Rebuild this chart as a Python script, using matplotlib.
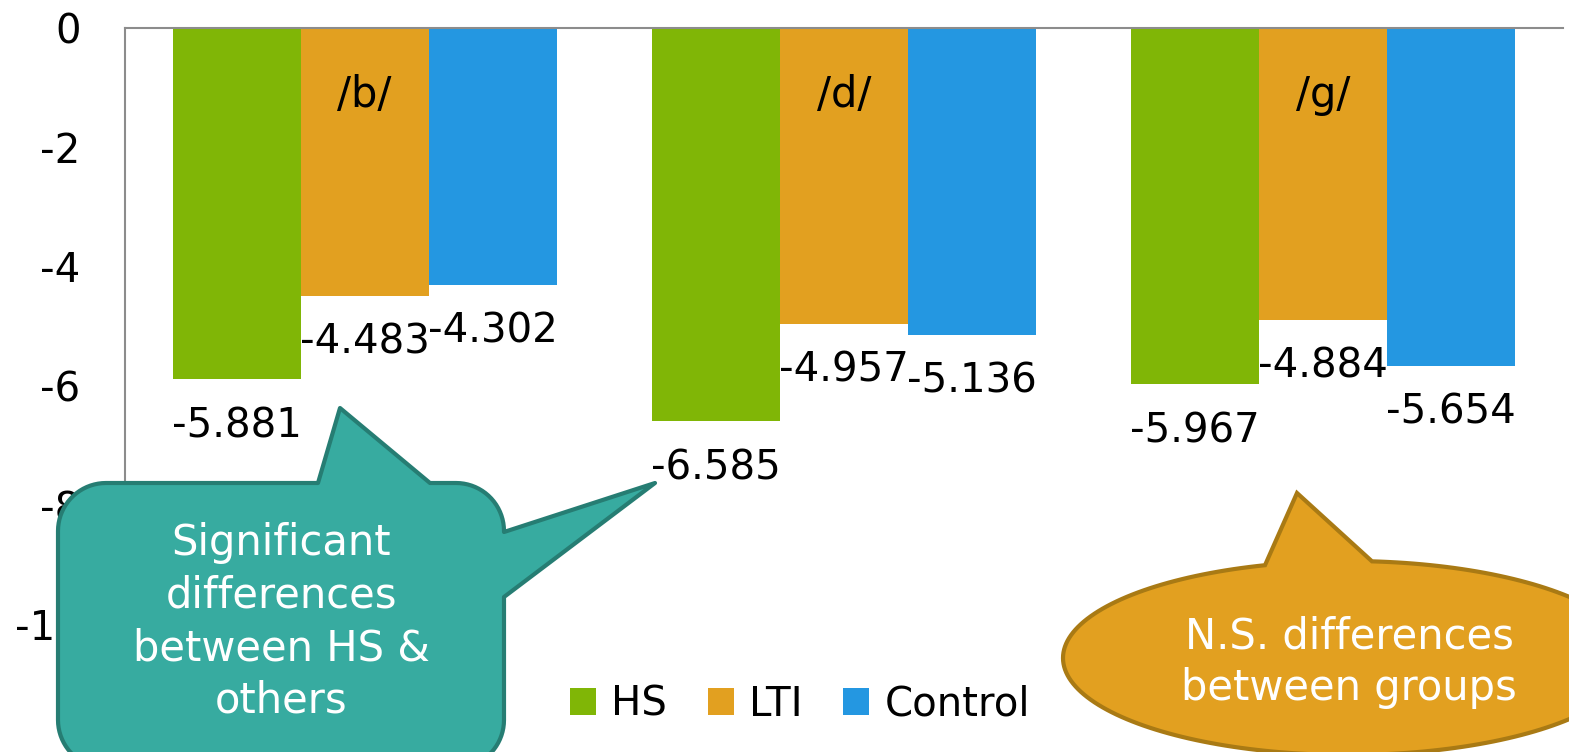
import numpy as np
import matplotlib
matplotlib.use("Agg")
import matplotlib.pyplot as plt
from matplotlib.path import Path
from matplotlib.patches import PathPatch

plt.rcParams['font.family'] = ['DejaVu Sans']
plt.rcParams['axes.unicode_minus'] = False

# data
categories = ['/b/', '/d/', '/g/']
series_names = ['HS', 'LTI', 'Control']
hs_values = [-5.881, -6.585, -5.967]
lti_values = [-4.483, -4.957, -4.884]
control_values = [-4.302, -5.136, -5.654]
y_ticks = [0, -2, -4, -6, -8, -10]

colors = ['#80b606', '#e2a020', '#2497e1']
W, H = 1569, 752
FS = 29

fig = plt.figure(figsize=(W / 100, H / 100), dpi=100)
ax = fig.add_axes([125 / W, 1 - 625 / H, (1563 - 125) / W, (625 - 28) / H])

x = np.arange(len(categories))
bw = 0.267
handles = []
for k, (vals, name, col) in enumerate(zip([hs_values, lti_values, control_values],
                                          series_names, colors)):
    bars = ax.bar(x + (k - 1) * bw, vals, width=bw, color=col, label=name,
                  edgecolor='none', zorder=2)
    handles.append(bars)
    for xi, v in zip(x + (k - 1) * bw, vals):
        ax.annotate(f'{v:.3f}', xy=(xi, v), xytext=(0, -47),
                    textcoords='offset pixels', ha='center', va='center',
                    fontsize=FS, color='black', zorder=4)

for xi, cat in zip(x, categories):
    ax.annotate(cat, xy=(xi, 0), xytext=(0, -67), textcoords='offset pixels',
                ha='center', va='center', fontsize=FS + 1, color='black', zorder=4)

ax.set_xlim(-0.5, 2.5)
ax.set_ylim(-10, 0)
ax.set_yticks(y_ticks)
ax.set_yticklabels([str(t) for t in y_ticks])
ax.set_xticks([])
ax.tick_params(axis='y', length=0, pad=32, labelsize=FS)
for s in ['right', 'bottom']:
    ax.spines[s].set_visible(False)
for s in ['top', 'left']:
    ax.spines[s].set_color('#8c8c8c')
    ax.spines[s].set_linewidth(1.5)

fig.legend(handles=handles, labels=series_names, loc='center',
           bbox_to_anchor=(800 / W, 1 - 705 / H), ncol=3, frameon=False,
           fontsize=FS, handlelength=0.65, handleheight=0.65,
           handletextpad=0.38, columnspacing=1.0, borderpad=0)

# overlay in pixel coordinates for the callouts
ov = fig.add_axes([0, 0, 1, 1], zorder=3)
ov.set_xlim(0, W)
ov.set_ylim(H, 0)
ov.axis('off')


def arc(cx, cy, r, a0, a1, n=20):
    t = np.radians(np.linspace(a0, a1, n))
    return list(zip(cx + r * np.cos(t), cy - r * np.sin(t)))


# rounded box with two pointers
L, R, T, B, r = 58, 504, 483, 768, 48
pts = [(L + r, T), (318, T), (340, 408), (430, T), (R - r, T)]
pts += arc(R - r, T + r, r, 90, 0)
pts += [(R, 532), (655, 483), (R, 597), (R, B - r)]
pts += arc(R - r, B - r, r, 0, -90)
pts += [(L + r, B)]
pts += arc(L + r, B - r, r, -90, -180)
pts += [(L, T + r)]
pts += arc(L + r, T + r, r, 180, 90)
pts.append(pts[0])
codes = [Path.MOVETO] + [Path.LINETO] * (len(pts) - 2) + [Path.CLOSEPOLY]
ov.add_patch(PathPatch(Path(pts, codes), facecolor='#37aba0', edgecolor='#267d73',
                       linewidth=3, joinstyle='round', clip_on=False))
ov.text((L + R) / 2, 622, 'Significant\ndifferences\nbetween HS &\nothers',
        ha='center', va='center', fontsize=30, color='white', linespacing=1.32)

# ellipse callout with one pointer
cx, cy, a, b = 1348, 658, 285, 97
t0, t1 = np.degrees(np.arccos((1265 - cx) / a)), np.degrees(np.arccos((1372 - cx) / a))
t = np.radians(np.linspace(t0, 360 + t1, 200))
epts = list(zip(cx + a * np.cos(t), cy - b * np.sin(t)))
epts += [(1297, 493)]
epts.append(epts[0])
ecodes = [Path.MOVETO] + [Path.LINETO] * (len(epts) - 2) + [Path.CLOSEPOLY]
ov.add_patch(PathPatch(Path(epts, ecodes), facecolor='#e2a020', edgecolor='#a97a14',
                       linewidth=3, joinstyle='miter', clip_on=False))
ov.text(1349, 662, 'N.S. differences\nbetween groups', ha='center', va='center',
        fontsize=30, color='white', linespacing=1.3)

fig.savefig('out.png', dpi=100, facecolor='white')
